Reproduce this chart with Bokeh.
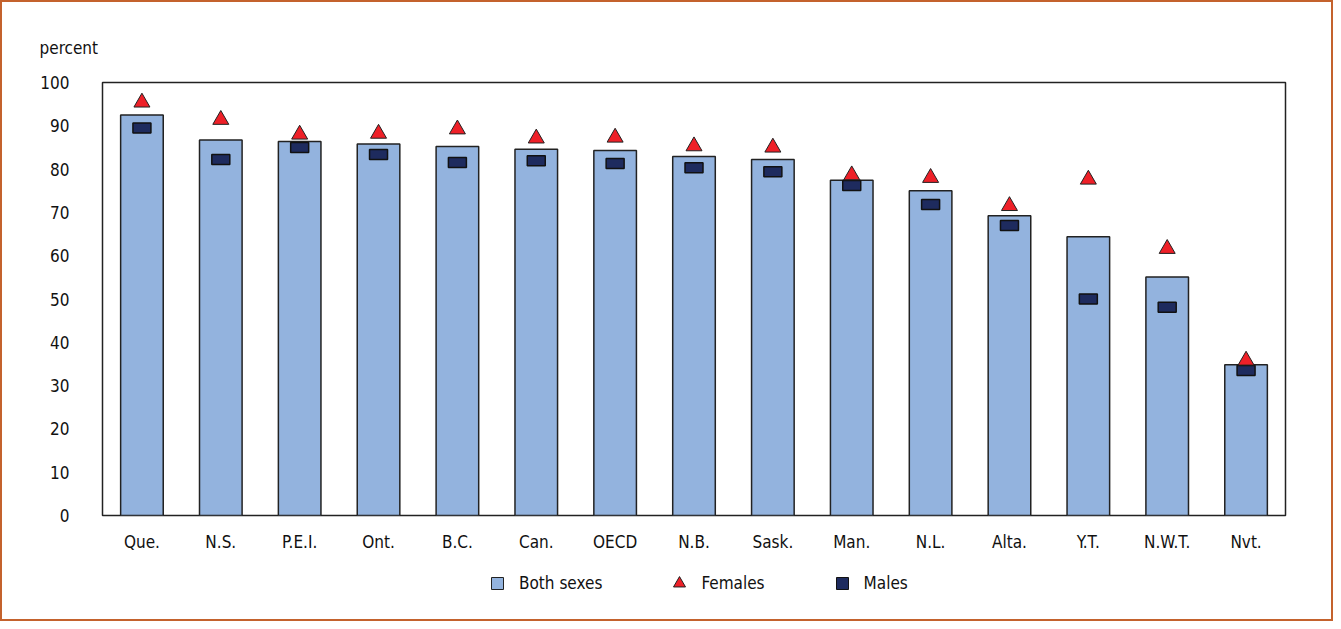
from bokeh.plotting import figure
from bokeh.layouts import column
from bokeh.models import ColumnDataSource, Legend, LegendItem, FactorRange, Range1d, FixedTicker
from bokeh.embed import file_html
from bokeh.resources import INLINE

categories = ["Que.", "N.S.", "P.E.I.", "Ont.", "B.C.", "Can.", "OECD", "N.B.",
              "Sask.", "Man.", "N.L.", "Alta.", "Y.T.", "N.W.T.", "Nvt."]
both_sexes = [92.5, 86.7, 86.4, 85.8, 85.2, 84.6, 84.3, 82.9, 82.2, 77.4, 75.0, 69.2, 64.4, 55.1, 34.8]
females = [95.4, 91.4, 88.0, 88.2, 89.2, 87.1, 87.3, 85.3, 85.0, 78.6, 78.0, 71.5, 77.6, 61.6, 35.8]
males = [89.5, 82.2, 85.0, 83.4, 81.5, 81.9, 81.3, 80.3, 79.4, 76.2, 71.8, 67.0, 50.0, 48.1, 33.5]
y_ticks = [0, 10, 20, 30, 40, 50, 60, 70, 80, 90, 100]
series_labels = ["Both sexes", "Females", "Males"]

FONT = "DejaVu Sans Condensed"
FS = "17px"
BAR = "#93B3DE"
RED = "#EE2028"
NAVY = "#1E2B5E"

src = ColumnDataSource(dict(cat=categories, both=both_sexes, fem=females, male=males))

p = figure(x_range=FactorRange(*categories), y_range=Range1d(0, 100),
           width=1329, height=565, output_backend="svg", toolbar_location=None,
           min_border_left=100, min_border_right=46, min_border_top=80, min_border_bottom=52,
           title="percent")

p.title.align = "left"
p.title.offset = -63
p.title.standoff = 49
p.title.text_font = FONT
p.title.text_font_size = FS
p.title.text_font_style = "normal"
p.title.text_color = "#111111"

p.outline_line_color = "#222222"
p.outline_line_width = 1.5
p.xgrid.grid_line_color = None
p.ygrid.grid_line_color = None

for ax in (p.xaxis[0], p.yaxis[0]):
    ax.axis_line_color = None
    ax.major_tick_line_color = None
    ax.minor_tick_line_color = None
    ax.major_label_text_font = FONT
    ax.major_label_text_font_size = FS
    ax.major_label_text_color = "#111111"
p.xaxis.major_label_standoff = 10
p.yaxis.major_label_standoff = 27
p.yaxis.ticker = FixedTicker(ticks=y_ticks)

p.vbar(x="cat", top="both", width=0.54, source=src,
       fill_color=BAR, line_color="#222222", line_width=1.5)
p.rect(x="cat", y="male", width=18, height=10, width_units="screen", height_units="screen",
       source=src, fill_color=NAVY, line_color="#111111", line_width=1.5)
p.scatter(x="cat", y="fem", marker="triangle", size=16, source=src,
          fill_color=RED, line_color="#222222", line_width=1)

# separate strip for the legend, below the chart
lp = figure(width=1329, height=52, output_backend="svg", toolbar_location=None,
            min_border=0, x_range=Range1d(0, 1), y_range=Range1d(0, 1))
lp.axis.visible = False
lp.grid.grid_line_color = None
lp.outline_line_color = None

nan = float("nan")
lg_both = lp.scatter(x=[nan], y=[nan], marker="square", fill_color=BAR,
                     line_color="#222222", line_width=1)
lg_fem = lp.scatter(x=[nan], y=[nan], marker="triangle", fill_color=RED,
                    line_color="#222222", line_width=1)
lg_male = lp.scatter(x=[nan], y=[nan], marker="square", fill_color=NAVY,
                     line_color="#111111", line_width=1)

legend = Legend(items=[LegendItem(label=series_labels[0], renderers=[lg_both]),
                       LegendItem(label=series_labels[1], renderers=[lg_fem]),
                       LegendItem(label=series_labels[2], renderers=[lg_male])],
                orientation="horizontal", location=(380, 21),
                glyph_width=30, glyph_height=30, label_standoff=7, spacing=62,
                padding=0, margin=0, border_line_color=None, background_fill_alpha=0,
                label_text_font=FONT, label_text_font_size=FS, label_text_color="#111111")
lp.add_layout(legend)

layout = column(p, lp, spacing=0, styles={"border": "2px solid #C4622D"})
open("out.html", "w").write(file_html(layout, INLINE))
